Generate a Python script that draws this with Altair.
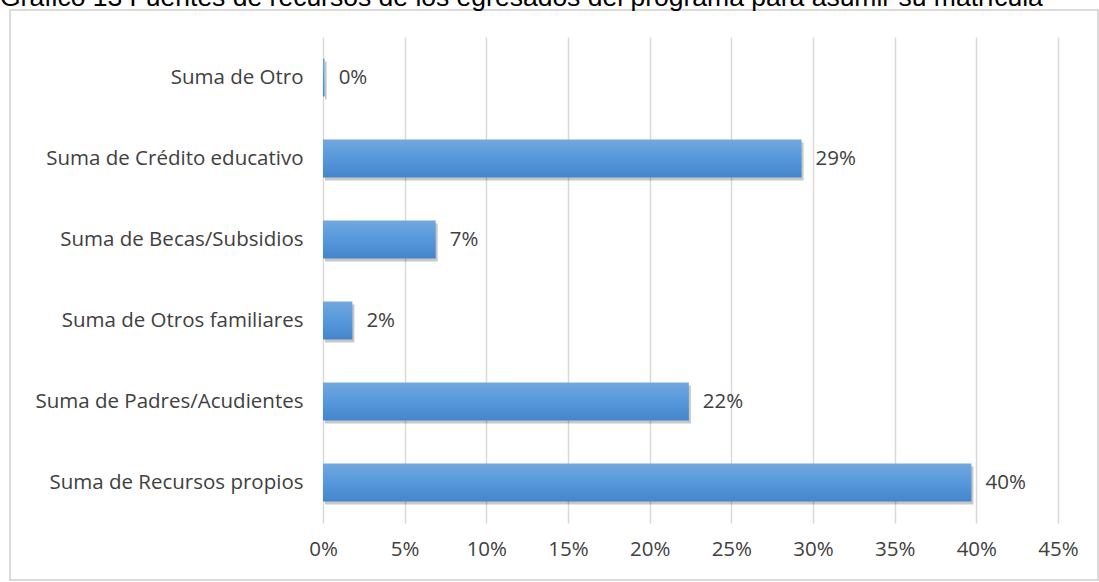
import altair as alt
import pandas as pd

categories = [
    "Suma de Otro",
    "Suma de Crédito educativo",
    "Suma de Becas/Subsidios",
    "Suma de Otros familiares",
    "Suma de Padres/Acudientes",
    "Suma de Recursos propios",
]
values = [0.001, 0.293, 0.069, 0.018, 0.224, 0.397]
x_ticks = [0, 0.05, 0.10, 0.15, 0.20, 0.25, 0.30, 0.35, 0.40, 0.45]
title_text = "Gráfico 13 Fuentes de recursos de los egresados del programa para asumir su matrícula"

df = pd.DataFrame({"cat": categories, "val": values})

W, H = 735, 486
FONT = "Open Sans"
TXT = "#404040"
FS = 20.5

y_enc = alt.Y("cat:N", sort=categories, title=None,
              scale=alt.Scale(paddingInner=0.53, paddingOuter=0.265),
              axis=alt.Axis(labelFont=FONT, labelFontSize=FS, labelColor=TXT,
                            labelPadding=20, ticks=False, domain=False, grid=False,
                            labelLimit=400))
x_enc = alt.X("val:Q", title=None,
              scale=alt.Scale(domain=[0, 0.45], nice=False, zero=True),
              axis=alt.Axis(values=x_ticks, format=".0%", labelFont=FONT, labelFontSize=FS,
                            labelColor=TXT, labelPadding=16, ticks=False, domain=False,
                            labelFlush=False, labelOverlap=False,
                            grid=True, gridColor="#d9d9d9", gridWidth=1.5))

base = alt.Chart(df)

shadow = base.mark_bar(color="#000000", opacity=0.22, xOffset=2, yOffset=3).encode(
    x=x_enc, y=y_enc)

grad = alt.Gradient(
    gradient="linear",
    stops=[alt.GradientStop(color="#72a8de", offset=0),
           alt.GradientStop(color="#5698dc", offset=0.5),
           alt.GradientStop(color="#4585cb", offset=1)],
    x1=0, x2=0, y1=0, y2=1)

bars = base.mark_bar(color=grad).encode(x=x_enc, y=y_enc)

labels = base.mark_text(align="left", baseline="middle", dx=14, font=FONT,
                        fontSize=FS, color=TXT).encode(
    x=x_enc, y=y_enc, text=alt.Text("val:Q", format=".0%"))

title_df = pd.DataFrame({"t": [title_text]})
title = alt.Chart(title_df).mark_text(align="left", baseline="alphabetic",
                                      font="Liberation Sans", fontSize=26.5,
                                      color="#000000").encode(
    text="t:N", x=alt.value(-323), y=alt.value(-31))

frame = alt.Chart(title_df).mark_rect(fill=None, stroke="#d0d0d0", strokeWidth=1.5).encode(
    x=alt.value(-313), x2=alt.value(775), y=alt.value(-27), y2=alt.value(543))

chart = alt.layer(frame, shadow, bars, labels, title).properties(
    width=W, height=H,
    autosize=alt.AutoSizeParams(type="none"),
    padding={"left": 323, "top": 37, "right": 41, "bottom": 59},
    background="white",
).configure_view(stroke=None)

chart.save("out.html", embed_options={"renderer": "svg", "actions": False})
